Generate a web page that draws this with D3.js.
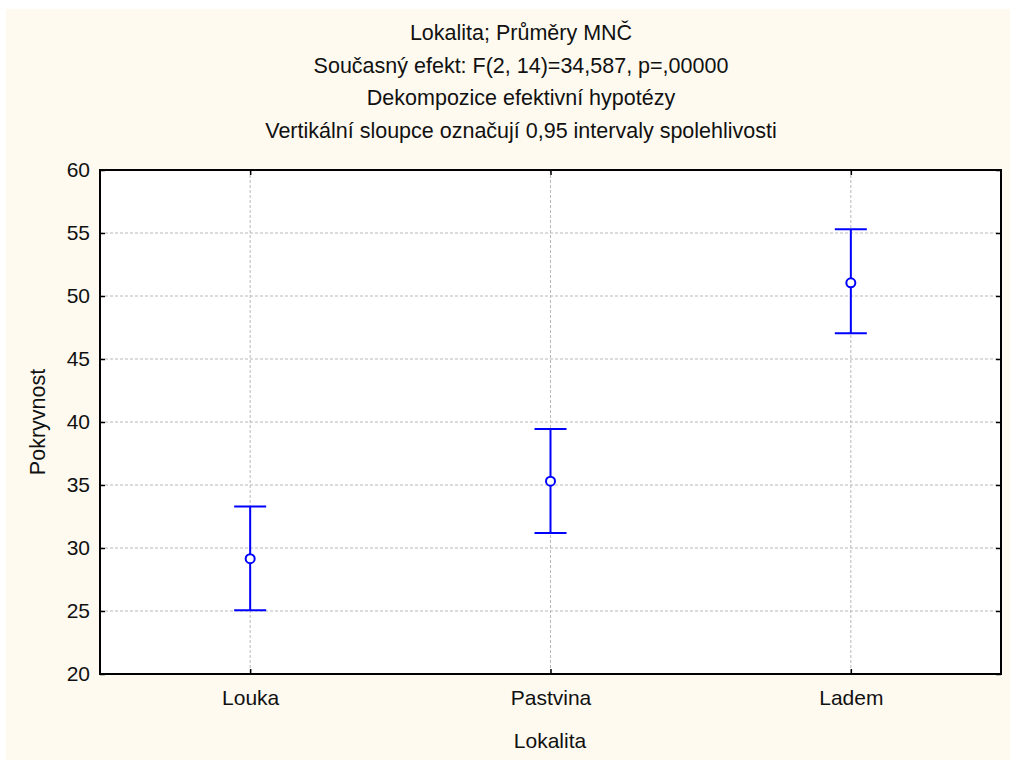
<!DOCTYPE html>
<html><head><meta charset="utf-8">
<script src="https://cdn.jsdelivr.net/npm/d3@7"></script>
<style>body{margin:0;background:#fff}svg{display:block}text{font-family:"Liberation Sans",Arial,sans-serif;fill:#111}</style>
</head><body>
<svg id="c" width="1010" height="760"></svg>
<script>
const categories = ["Louka", "Pastvina", "Ladem"];
const means = [29.15, 35.3, 51.05];
const upper = [33.3, 39.45, 55.3];
const lower = [25.05, 31.2, 47.05];
const yTicks = [20, 25, 30, 35, 40, 45, 50, 55, 60];
const titles = ["Lokalita; Průměry MNČ", "Současný efekt: F(2, 14)=34,587, p=,00000", "Dekompozice efektivní hypotézy", "Vertikální sloupce označují 0,95 intervaly spolehlivosti"];
const xTitle = "Lokalita", yTitle = "Pokryvnost";

const svg = d3.select("#c");
svg.append("rect").attr("x",6).attr("y",9).attr("width",1004).attr("height",751).attr("fill","#fefaf0");
const L=100,R=1001,T=170,B=674;
const x = d3.scalePoint().domain(categories).range([L,R]).padding(0.5);
const y = d3.scaleLinear().domain([20,60]).range([B,T]);
svg.append("rect").attr("x",L).attr("y",T).attr("width",R-L).attr("height",B-T).attr("fill","#fff");
const grid = svg.append("g").attr("stroke","#b8b8b8").attr("stroke-width",1).attr("stroke-dasharray","3,2");
grid.selectAll(".gy").data(yTicks.slice(1,-1)).join("line").attr("x1",L).attr("x2",R).attr("y1",d=>y(d)).attr("y2",d=>y(d));
grid.selectAll(".gx").data(categories).join("line").attr("y1",T).attr("y2",B).attr("x1",d=>x(d)).attr("x2",d=>x(d));
// axes
const gl = svg.append("g").attr("transform",`translate(${L},0)`).call(d3.axisLeft(y).tickValues(yTicks).tickSizeInner(-5).tickSizeOuter(0).tickPadding(10));
const gr = svg.append("g").attr("transform",`translate(${R},0)`).call(d3.axisRight(y).tickValues(yTicks).tickSizeInner(-5).tickSizeOuter(0).tickFormat(""));
const gb = svg.append("g").attr("transform",`translate(0,${B})`).call(d3.axisBottom(x).tickSizeInner(-5).tickSizeOuter(0).tickPadding(16));
const gt = svg.append("g").attr("transform",`translate(0,${T})`).call(d3.axisTop(x).tickSizeInner(-5).tickSizeOuter(0).tickFormat(""));
[gl,gr,gb,gt].forEach(g=>{g.select(".domain").remove();g.selectAll(".tick line").attr("stroke","#000").attr("stroke-width",1.5);g.selectAll("text").attr("font-size",21).attr("fill","#111").attr("font-family","Liberation Sans, Arial, sans-serif");});
svg.append("rect").attr("x",L).attr("y",T).attr("width",R-L).attr("height",B-T).attr("fill","none").attr("stroke","#000").attr("stroke-width",2);
// titles
svg.selectAll(".title").data(titles).join("text").attr("x",521).attr("y",(d,i)=>40+i*32.5).attr("text-anchor","middle").attr("font-size",21.5).text(d=>d);
svg.append("text").attr("x",550).attr("y",748).attr("text-anchor","middle").attr("font-size",21).text(xTitle);
svg.append("text").attr("transform",`translate(45,${(T+B)/2}) rotate(-90)`).attr("text-anchor","middle").attr("font-size",21.5).text(yTitle);
// error bars
const eb = svg.append("g").attr("stroke","#0000ff").attr("stroke-width",2).attr("fill","none");
categories.forEach((c,i)=>{
  const cx=x(c);
  eb.append("line").attr("x1",cx).attr("x2",cx).attr("y1",y(upper[i])).attr("y2",y(lower[i]));
  eb.append("line").attr("x1",cx-16).attr("x2",cx+16).attr("y1",y(upper[i])).attr("y2",y(upper[i]));
  eb.append("line").attr("x1",cx-16).attr("x2",cx+16).attr("y1",y(lower[i])).attr("y2",y(lower[i]));
  eb.append("circle").attr("cx",cx).attr("cy",y(means[i])).attr("r",4.5).attr("fill","#fff");
});
</script></body></html>
